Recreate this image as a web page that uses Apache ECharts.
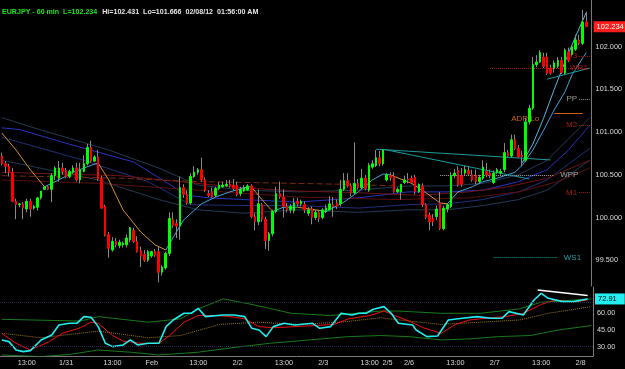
<!DOCTYPE html>
<html><head><meta charset="utf-8">
<script src="https://cdn.jsdelivr.net/npm/echarts@6/dist/echarts.min.js"></script>
<style>html,body{margin:0;padding:0;background:#000;}#c{width:625px;height:369px;}</style>
</head><body><div id="c"></div>
<script>
// ---------- sessions / categories ----------
const sessions = [
  ['1/30', 6, 23, false], ['1/31', 0, 23, true], ['Feb', 0, 23, true], ['2/2', 0, 23, true],
  ['2/3', 0, 17, true], ['2/5', 18, 23, true], ['2/6', 0, 23, true], ['2/7', 0, 23, true], ['2/8', 0, 2, true]
];
const categories = [], tickLabels = [];
sessions.forEach(([day, h0, h1, showDay]) => {
  for (let h = h0; h <= h1; h++) {
    categories.push(day + ' ' + String(h).padStart(2, '0') + ':00');
    tickLabels.push(h === h0 && showDay ? day : (h === 13 ? '13:00' : ''));
  }
});
categories.push(''); tickLabels.push('');

// ---------- OHLC (EURJPY 60 min) ----------
const open = [
100.72,100.63,100.60,100.53,100.19,100.15,100.16,100.10,100.19,100.11,
100.12,100.23,100.33,100.36,100.33,100.49,100.46,100.58,100.55,100.48,
100.53,100.58,100.44,100.54,100.63,100.82,100.66,100.71,100.46,100.13,
99.80,99.62,99.72,99.67,99.68,99.68,99.74,99.85,99.72,99.61,
99.57,99.50,99.55,99.60,99.60,99.36,99.41,99.58,99.98,99.93,
99.90,100.35,100.27,100.17,100.48,100.53,100.56,100.44,100.28,100.30,
100.26,100.34,100.36,100.37,100.39,100.38,100.38,100.28,100.31,100.32,
100.37,100.01,99.95,100.15,99.98,99.73,99.81,100.07,100.28,100.24,
100.13,100.09,100.08,100.19,100.16,100.15,100.05,100.10,100.00,100.06,
100.00,100.07,100.09,100.15,100.17,100.16,100.33,100.43,100.37,100.29,
100.40,100.35,100.46,100.32,100.59,100.61,100.70,100.63,100.44,100.49,
100.48,100.30,100.30,100.41,100.45,100.46,100.47,100.30,100.37,100.15,
100.03,99.99,100.01,100.17,99.87,100.10,100.13,100.49,100.55,100.49,
100.52,100.55,100.50,100.49,100.42,100.46,100.54,100.52,100.41,100.53,
100.52,100.56,100.76,100.72,100.91,100.81,100.73,100.67,101.12,101.28,
101.79,101.82,101.88,101.88,101.75,101.75,101.77,101.84,101.69,101.94,
101.91,101.97,102.08,102.04,102.29];
const high = [
100.76,100.66,100.63,100.58,100.22,100.17,100.18,100.22,100.22,100.15,
100.24,100.26,100.37,100.38,100.52,100.60,100.66,100.64,100.58,100.56,
100.61,100.64,100.64,100.73,100.86,100.90,100.73,100.79,100.49,100.15,
99.83,99.77,99.76,99.74,99.72,99.80,99.89,99.88,99.78,99.66,
99.62,99.62,99.61,99.63,99.66,99.44,99.60,100.06,100.06,99.98,
100.48,100.39,100.32,100.52,100.60,100.58,100.70,100.47,100.32,100.35,
100.36,100.42,100.42,100.44,100.44,100.45,100.42,100.36,100.38,100.39,
100.39,100.05,100.33,100.17,100.01,99.83,100.09,100.36,100.42,100.33,
100.17,100.16,100.23,100.23,100.21,100.19,100.12,100.13,100.09,100.09,
100.11,100.15,100.25,100.24,100.21,100.44,100.52,100.52,100.40,100.88,
100.45,100.57,100.50,100.64,100.67,100.79,100.78,100.80,100.52,100.53,
100.53,100.35,100.39,100.49,100.52,100.49,100.50,100.40,100.40,100.17,
100.06,100.04,100.14,100.30,100.14,100.17,100.53,100.57,100.60,100.58,
100.61,100.60,100.56,100.56,100.50,100.67,100.64,100.56,100.55,100.58,
100.57,100.87,100.79,100.97,100.97,100.85,100.78,101.17,101.32,101.88,
101.90,101.96,101.93,101.93,101.79,101.84,101.88,101.88,101.98,101.99,
102.02,102.14,102.14,102.43,102.41];
const low = [
100.61,100.52,100.48,100.18,99.98,100.12,99.98,100.06,100.01,100.09,
100.08,100.21,100.32,100.32,100.18,100.44,100.42,100.50,100.46,100.46,
100.51,100.42,100.40,100.53,100.61,100.64,100.65,100.43,100.10,99.78,
99.53,99.60,99.65,99.64,99.65,99.65,99.71,99.70,99.59,99.42,
99.48,99.48,99.53,99.54,99.24,99.32,99.39,99.55,99.88,99.76,
99.74,100.23,100.15,100.15,100.46,100.50,100.42,100.30,100.24,100.23,
100.24,100.32,100.35,100.36,100.35,100.32,100.25,100.25,100.30,100.31,
99.99,99.85,99.91,99.95,99.63,99.61,99.78,100.05,100.22,100.00,
100.06,100.05,100.05,100.13,100.13,100.05,100.02,99.92,99.97,99.95,
99.98,100.05,100.08,100.01,100.10,100.13,100.31,100.35,100.25,100.27,
100.33,100.33,100.32,100.30,100.57,100.59,100.60,100.61,100.42,100.43,
100.29,100.29,100.21,100.39,100.40,100.39,100.27,100.29,100.12,99.98,
99.85,99.90,99.97,99.85,99.85,100.06,100.11,100.46,100.36,100.36,
100.49,100.49,100.42,100.39,100.40,100.44,100.47,100.46,100.39,100.51,
100.50,100.53,100.70,100.70,100.79,100.70,100.60,100.65,101.09,101.26,
101.76,101.81,101.75,101.67,101.67,101.70,101.75,101.68,101.67,101.82,
101.89,101.95,102.02,102.02,102.23];
const close = [
100.63,100.60,100.53,100.19,100.15,100.16,100.11,100.19,100.10,100.13,
100.23,100.31,100.36,100.33,100.49,100.58,100.58,100.54,100.48,100.54,
100.58,100.44,100.56,100.63,100.82,100.66,100.71,100.45,100.11,99.80,
99.64,99.72,99.68,99.71,99.70,99.76,99.88,99.72,99.60,99.55,
99.50,99.60,99.60,99.56,99.36,99.42,99.58,99.99,99.91,99.90,
100.35,100.27,100.17,100.48,100.53,100.56,100.44,100.32,100.26,100.24,
100.34,100.38,100.38,100.39,100.37,100.34,100.27,100.33,100.35,100.37,
100.01,99.95,100.16,99.98,99.73,99.81,100.07,100.28,100.24,100.13,
100.09,100.13,100.17,100.16,100.19,100.09,100.09,100.00,100.06,99.99,
100.09,100.11,100.16,100.13,100.13,100.33,100.43,100.37,100.29,100.40,
100.35,100.46,100.34,100.61,100.63,100.70,100.63,100.79,100.50,100.47,
100.30,100.33,100.39,100.44,100.44,100.41,100.30,100.39,100.15,100.00,
99.95,99.95,100.10,99.87,100.11,100.15,100.49,100.52,100.38,100.39,
100.56,100.51,100.44,100.42,100.47,100.59,100.50,100.49,100.52,100.56,
100.54,100.76,100.72,100.91,100.81,100.71,100.71,101.12,101.28,101.79,
101.82,101.93,101.77,101.69,101.69,101.81,101.84,101.70,101.96,101.84,
102.00,102.08,102.04,102.29,102.234];

// ---------- price-panel indicator lines, read as [bar index, price] ----------
const maFalling = [
  [[0,100.99],[4,100.79],[8,100.56],[12,100.36]],
  [[27,100.64],[30,100.44],[34,100.09],[39,99.83],[43,99.68],[46,99.62]],
  [[70,100.36],[73,100.21],[76,100.07]],
  [[83,100.12],[88,100.09],[91,100.07]],
  [[109,100.50],[115,100.40],[119,100.29],[123,100.17],[125,100.16]]
];
const maRising = [
  [[12,100.36],[16,100.44],[20,100.53],[25,100.61],[27,100.64]],
  [[46,99.62],[48,99.76],[51,99.97],[56,100.16],[60,100.24],[64,100.30],[68,100.35],[70,100.36]],
  [[76,100.07],[79,100.12],[83,100.12]],
  [[91,100.07],[96,100.18],[100,100.30],[104,100.44],[107,100.51],[109,100.50]],
  [[125,100.16],[128,100.30],[132,100.36],[135,100.42],[139,100.46],[144,100.53],[146,100.61],[149,100.79],[152,101.02],[155,101.26],[158,101.47],[160,101.67],[163,101.87],[164,101.93]]
];
const fastUpper = [[146,100.64],[149,100.86],[152,101.16],[155,101.50],[158,101.82],[161,102.12],[164,102.40]];
const blueBand = [[0,101.05],[5,101.03],[18,100.87],[37,100.65],[52,100.26],[58,100.23],[68,100.21],[83,100.18],[100,100.23],[114,100.30],[125,100.30],[135,100.32],[145,100.42],[153,100.56],[159,100.79],[165,101.08]];
const slateUpper = [[0,101.17],[9,101.05],[30,100.79],[44,100.58],[55,100.38],[68,100.32],[83,100.30],[100,100.32],[114,100.37],[125,100.37],[135,100.40],[145,100.50],[153,100.67],[165,101.17]];
const navyLower = [[0,100.94],[23,100.67],[41,100.42],[53,100.15],[68,100.14],[83,100.14],[100,100.11],[114,100.15],[125,100.16],[135,100.21],[145,100.30],[153,100.44],[165,100.81]];
const slateLower = [[0,100.67],[27,100.44],[44,100.21],[55,100.09],[68,100.05],[83,100.09],[100,100.06],[114,100.09],[125,100.09],[135,100.14],[145,100.21],[153,100.32],[165,100.67]];
const darkRed1 = [[0,100.53],[16,100.51],[33,100.49],[50,100.42],[67,100.35],[83,100.31],[100,100.29],[117,100.26],[131,100.30],[142,100.36],[153,100.46],[165,100.67]];
const darkRed2 = [[0,100.44],[27,100.40],[55,100.32],[83,100.24],[111,100.21],[131,100.23],[145,100.30],[156,100.42],[165,100.58]];
const dashedLevel = [[0,100.49],[33,100.46],[55,100.42],[95,100.39],[111,100.37]];

// trend lines [startIdx, startPrice, endIdx, endPrice]
const trendLines = [[105,100.80,154,100.674],[107,100.80,148,100.45],[153,101.62,165,101.75]];

// pivot levels
const pivotNames  = ['M3', 'WR1', 'PP', 'ADR Lo', 'M2', 'WPP', 'M1', 'WS1'];
const pivotValues = [101.89, 101.75, 101.39, 101.22, 101.08, 100.50, 100.29, 99.53];
const pivotFrom   = [162, 137, 162, 155, 162, 123, 162, 138];
const pivotTo     = [165, 165, 165, 163, 165, 155, 165, 156];

// ---------- oscillator panel ----------
const oscMain = [[0,36],[2,34.5],[4,27],[6,25.5],[8,26.4],[11,36],[14,40.5],[16,49.5],[19,51],[21,51],[23,57],[25,56.4],[27,48],[29,33],[31,30],[34,31.5],[36,36],[38,31.5],[41,33],[44,33],[46,48],[48,54],[51,60],[53,60],[55,64.5],[57,57],[62,58.5],[65,58.5],[68,57],[70,46.5],[72,45],[74,39],[76,48],[79,51],[82,49.5],[87,51],[89,46.5],[92,48],[95,60],[98,58.5],[100,60],[102,60],[104,63.6],[107,66],[109,60],[111,51],[115,49.5],[116,45],[119,39],[122,39.6],[125,54],[129,55.5],[133,57],[137,55.5],[140,55.5],[142,61.5],[146,58.5],[149,72],[151,78],[153,73.5],[157,70.5],[160,70.5],[164,72.91]];
const oscSignal = [[0,42],[4,33],[8,27],[13,34],[17,42],[22,47],[25,52],[27,51],[31,40],[34,35],[39,33],[44,33],[47,40],[51,52],[55,58],[60,58],[64,57],[68,55],[72,48],[76,47],[82,48],[88,49],[93,50],[97,55],[103,58],[107,62],[110,58],[114,53],[118,47],[123,42],[127,50],[131,54],[137,56],[141,57],[146,60],[151,68],[155,72],[160,70],[164,72]];
const oscUpper = [[0,54.6],[22,53],[27,57],[41,52],[50,55],[55,64],[62,73],[70,68],[81,60],[92,58],[106,62],[111,62],[123,60],[134,60],[145,64],[151,70],[165,73]];
const oscLower = [[0,22.5],[11,21],[19,23],[27,27],[36,25],[44,22.5],[55,25],[67,30],[75,33],[86,36],[97,39],[106,40],[114,39],[123,36],[131,37],[139,39],[148,40],[156,45],[165,49]];
const oscMid = [[0,42],[11,38],[27,44],[41,38],[50,40],[61,50],[72,52],[83,50],[95,52],[106,56],[117,52],[123,50],[134,52],[145,54],[153,60],[165,66]];
const oscDivergence = [[150,81],[164,76]];
const oscLevels = [70, 30];

// ---------- build ----------
const FONT = 'Liberation Sans';
const CLEAR = 'rgba(0,0,0,0)';
const bodyData = open.map((o, k) => [o, close[k], Math.min(o, close[k]), Math.max(o, close[k])]);
const wickData = open.map((o, k) => [o, close[k], low[k], high[k]]);

function line(name, data, color, opt = {}) {
  return Object.assign({
    name, type: 'line', data, xAxisIndex: 0, yAxisIndex: 0, showSymbol: false, symbol: 'none',
    lineStyle: { color, width: 1, type: opt.dash || 'solid' }, z: opt.z || 2, silent: true, animation: false
  }, opt.extra || {});
}

const pivotStyle = {
  'M3':    { color: '#a81818', pos: 'start', dist: 2 },
  'WR1':   { color: '#a81818', pos: 'insideEnd', dist: 2 },
  'PP':    { color: '#9a9a9a', pos: 'start', dist: 2 },
  'ADR Lo':{ color: '#c8641a', pos: 'start', dist: 15, solid: true, offset: [0, 5] },
  'M2':    { color: '#a81818', pos: 'start', dist: 2 },
  'WPP':   { color: '#a8a8a8', pos: 'end', dist: 6 },
  'M1':    { color: '#a81818', pos: 'start', dist: 2 },
  'WS1':   { color: '#1ea0a0', pos: 'end', dist: 6 }
};
const pivotMarks = pivotNames.map((n, k) => {
  const s = pivotStyle[n];
  return [
    { coord: [pivotFrom[k], pivotValues[k]], name: n,
      lineStyle: { color: s.color, type: s.solid ? 'solid' : 'dotted', width: 1 },
      label: { show: true, formatter: n, position: s.pos, distance: s.dist, color: s.color,
               fontSize: 8, fontFamily: FONT, offset: s.offset || [0, 0] } },
    { coord: [pivotTo[k], pivotValues[k]] }
  ];
});
const trendMarks = trendLines.map(t => [
  { coord: [t[0], t[1]], lineStyle: { color: '#1f9a9a', width: 1, type: 'solid' }, label: { show: false } },
  { coord: [t[2], t[3]] }
]);

const series = [];
series.push(line('slateUpper', slateUpper, '#243a55'));
series.push(line('slateLower', slateLower, '#243a55'));
series.push(line('navyLower', navyLower, '#20307a'));
series.push(line('blueBand', blueBand, '#2a34c0'));
series.push(line('darkRed1', darkRed1, '#701414'));
series.push(line('darkRed2', darkRed2, '#5a1010'));
series.push(line('dashedLevel', dashedLevel, '#7a2a12', { dash: [6, 3] }));
series.push(line('fastUpper', fastUpper, '#5cb6e6'));
maFalling.forEach((seg, k) => series.push(line('maF' + k, seg, '#d8922c')));
maRising.forEach((seg, k) => series.push(line('maR' + k, seg, '#40a4dc')));
series.push({
  name: 'levels', type: 'line', data: [], xAxisIndex: 0, yAxisIndex: 0, silent: true, animation: false, z: 3,
  markLine: { silent: true, symbol: 'none', animation: false, data: pivotMarks.concat(trendMarks) }
});
series.push({
  name: 'wick', type: 'candlestick', data: wickData, xAxisIndex: 0, yAxisIndex: 0, barWidth: 1, z: 4,
  silent: true, animation: false,
  itemStyle: { color: '#8a8a8a', color0: '#8a8a8a', borderColor: '#8a8a8a', borderColor0: '#8a8a8a', borderWidth: 1 }
});
series.push({
  name: 'body', type: 'candlestick', data: bodyData, xAxisIndex: 0, yAxisIndex: 0, barWidth: 2, z: 5,
  silent: true, animation: false,
  itemStyle: { color: '#00ff00', color0: '#ff0000', borderColor: '#00ff00', borderColor0: '#ff0000', borderWidth: 1 }
});
// last-price tag
series.push({
  name: 'lastPrice', type: 'line', data: [], xAxisIndex: 0, yAxisIndex: 0, silent: true, animation: false, z: 8,
  markLine: {
    silent: true, symbol: 'none', animation: false, precision: 3,
    data: [{ yAxis: close[close.length - 1] }],
    lineStyle: { color: CLEAR, width: 1 },
    label: { show: true, position: 'end', distance: 2, formatter: p => Number(p.value).toFixed(3),
             backgroundColor: '#ff1e1e', color: '#ffffff', padding: [2, 5, 1, 3], fontSize: 7.5, fontFamily: FONT }
  }
});

function oline(name, data, color, opt = {}) {
  return Object.assign({
    name, type: 'line', data, xAxisIndex: 1, yAxisIndex: 1, showSymbol: false, symbol: 'none',
    lineStyle: { color, width: opt.w || 1, type: opt.dash || 'solid' }, z: opt.z || 2, silent: true, animation: false
  }, opt.extra || {});
}
series.push(oline('oscUpper', oscUpper, '#1a7a1a', { extra: {
  markLine: { silent: true, symbol: 'none', animation: false, label: { show: false },
    lineStyle: { color: '#222a50', type: 'dotted', width: 1 }, data: oscLevels.map(v => ({ yAxis: v })) } } }));
series.push(oline('oscLower', oscLower, '#1a7a1a'));
series.push(oline('oscMid', oscMid, '#9a7a1e', { dash: 'dotted' }));
series.push(oline('oscSignal', oscSignal, '#ee1010', { z: 3 }));
series.push(oline('oscMain', oscMain, '#22eef0', { w: 1.6, z: 4 }));
series.push(oline('oscDiv', oscDivergence, '#ffffff', { w: 1.5, z: 5 }));
series.push({
  name: 'oscLast', type: 'line', data: [], xAxisIndex: 1, yAxisIndex: 1, silent: true, animation: false, z: 8,
  markLine: { silent: true, symbol: 'none', animation: false, precision: 2,
    data: [{ yAxis: oscMain[oscMain.length - 1][1] }], lineStyle: { color: CLEAR, width: 1 },
    label: { show: true, position: 'end', distance: 2, formatter: p => Number(p.value).toFixed(2),
             backgroundColor: '#22f0f0', color: '#000', padding: [2, 8, 1, 3], fontSize: 7.5, fontFamily: FONT } }
});

const chart = echarts.init(document.getElementById('c'), null, { renderer: 'canvas' });
chart.setOption({
  backgroundColor: '#000000',
  animation: false,
  title: {
    left: 2, top: 3, padding: 0,
    text: '{g|EURJPY - 60 min  L=102.234} {w|Hi=102.431  Lo=101.666  02/08/12  01:56:00 AM}',
    textStyle: { rich: {
      g: { color: '#1ee61e', fontSize: 7.1, fontFamily: FONT },
      w: { color: '#e6e6e6', fontSize: 7.1, fontFamily: FONT }
    } }
  },
  grid: [
    { left: 0, top: 0, width: 593, height: 286 },
    { left: 0, top: 287, width: 593, height: 69 }
  ],
  xAxis: [
    { type: 'category', data: categories, gridIndex: 0, boundaryGap: true,
      axisLine: { show: false }, axisTick: { show: false }, axisLabel: { show: false }, splitLine: { show: false } },
    { type: 'category', data: categories, gridIndex: 1, boundaryGap: true,
      axisLine: { show: true, lineStyle: { color: '#7a7a7a' } }, axisTick: { show: false }, splitLine: { show: false },
      axisLabel: { show: true, color: '#d8d8d8', fontSize: 7.3, fontFamily: FONT, margin: 3,
        interval: (idx) => tickLabels[idx] !== '', formatter: (v, idx) => tickLabels[idx] } }
  ],
  yAxis: [
    { type: 'value', gridIndex: 0, position: 'right', min: 99.198, max: 102.547,
      axisLine: { show: true, lineStyle: { color: '#7a7a7a' } }, axisTick: { show: false }, splitLine: { show: false },
      axisLabel: { show: true, color: '#dcdcdc', fontSize: 7.3, fontFamily: FONT, margin: 4,
        customValues: [99.5, 100, 100.5, 101, 101.5, 102], formatter: v => v.toFixed(3) } },
    { type: 'value', gridIndex: 1, position: 'right', min: 21.57, max: 83.67,
      axisLine: { show: true, lineStyle: { color: '#7a7a7a' } }, axisTick: { show: false }, splitLine: { show: false },
      axisLabel: { show: true, color: '#dcdcdc', fontSize: 7.3, fontFamily: FONT, margin: 4,
        customValues: [30, 45, 60, 75], formatter: v => v.toFixed(2) } }
  ],
  series
});
</script></body></html>
